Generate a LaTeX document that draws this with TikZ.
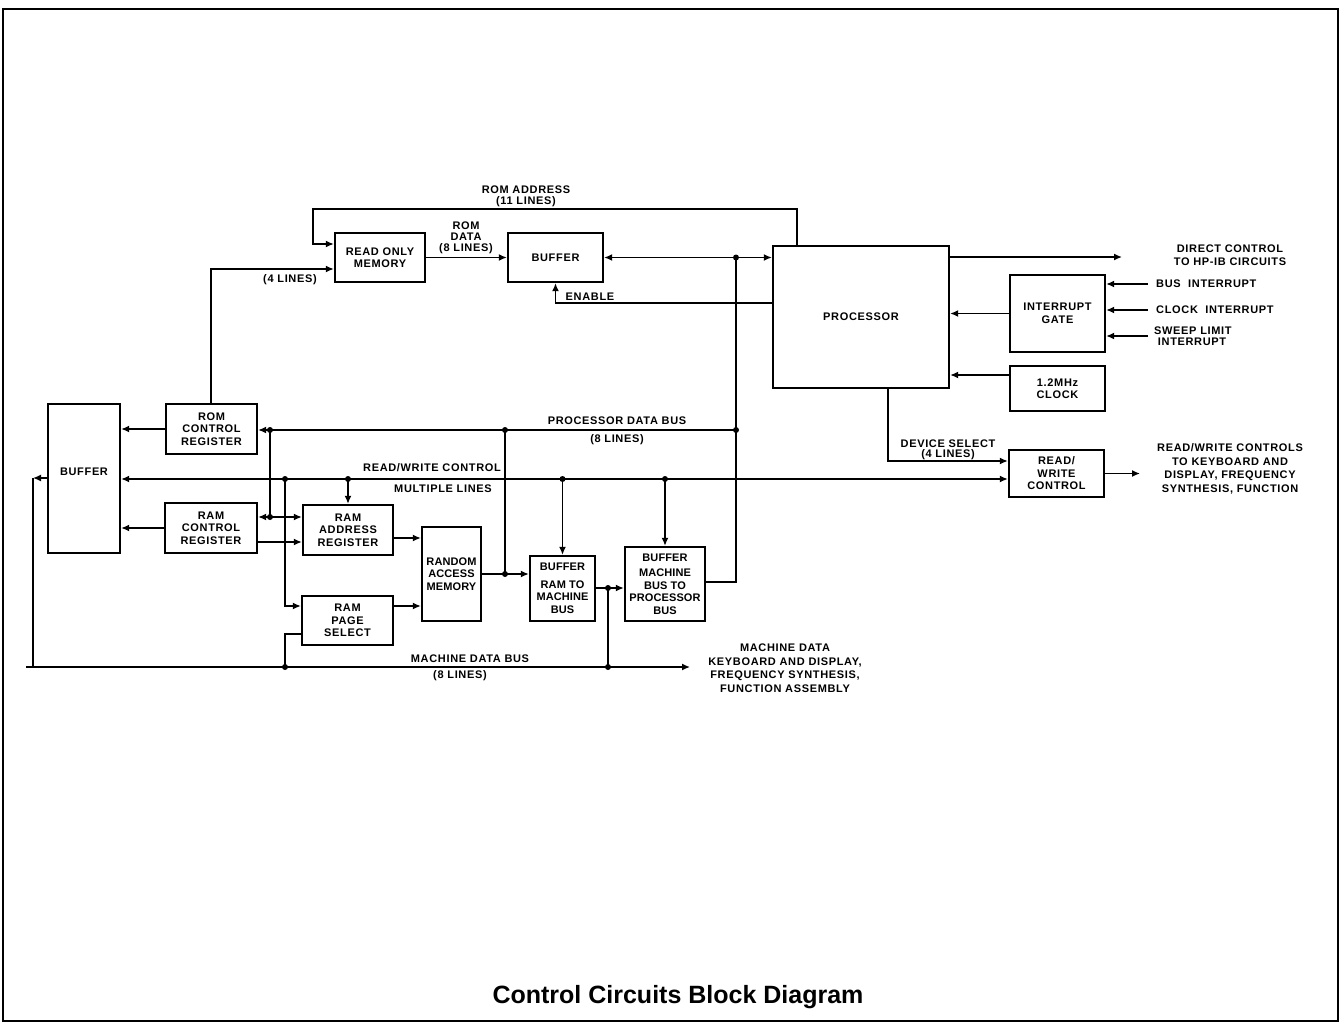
\documentclass[tikz,border=0pt]{standalone}
\usepackage{fontspec}
\setmainfont{Liberation Sans}
\newfontfamily\labfont[LetterSpace=6]{Liberation Sans}
\newfontfamily\labfontn[LetterSpace=1]{Liberation Sans}
\usetikzlibrary{arrows.meta}
\newcommand\lf{\labfont\fontsize{11}{12.5}\selectfont\bfseries}
\newcommand\lfs{\labfontn\fontsize{11}{12.5}\selectfont\bfseries}
\newcommand\lfw{\labfont\fontsize{11}{13.5}\selectfont\bfseries}
\newcommand\lfn{\labfont\fontsize{11}{11}\selectfont\bfseries}
\begin{document}
\begin{tikzpicture}[x=1pt,y=-1pt,
  box/.style={draw,line width=2.4pt,align=center,inner sep=0pt,font=\lf},
  wire/.style={line width=1.4pt},
  tip/.tip={Latex[length=8pt,width=7pt]},
  arr/.style={wire,-tip},
  dot/.style={circle,fill,inner sep=0pt,minimum size=6pt},
  lab/.style={font=\lf,align=center,inner sep=0pt}]
\useasboundingbox (0,0) rectangle (1343,1026);
\draw[line width=2pt] (3,9) rectangle (1338,1021);

% boxes
\node[box,minimum width=90pt,minimum height=49pt] (rom) at (380,257.5) {READ ONLY\\MEMORY};
\node[box,minimum width=95pt,minimum height=49pt] (buft) at (555.5,257.5) {BUFFER};
\node[box,minimum width=176pt,minimum height=142pt] (proc) at (861,317) {PROCESSOR};
\node[box,minimum width=95pt,minimum height=77pt] (igate) at (1057.5,313.5) {INTERRUPT\\GATE};
\node[box,minimum width=95pt,minimum height=45pt] (clk) at (1057.5,388.5) {1.2MHz\\CLOCK};
\node[box,minimum width=95pt,minimum height=47pt] (rwc) at (1056.5,473.5) {READ/\\WRITE\\CONTROL};
\node[box,minimum width=72pt,minimum height=149pt] (bufl) at (84,478.5) {BUFFER\\[2pt]};
\node[box,minimum width=91pt,minimum height=50pt] (romcr) at (211.5,429) {ROM\\CONTROL\\REGISTER};
\node[box,minimum width=92pt,minimum height=50pt] (ramcr) at (211,528) {RAM\\CONTROL\\REGISTER};
\node[box,minimum width=90pt,minimum height=50pt] (rama) at (348,530) {RAM\\ADDRESS\\REGISTER};
\node[box,minimum width=91pt,minimum height=49pt] (ramp) at (347.5,620.5) {RAM\\PAGE\\SELECT};
\node[box,font=\lfs,minimum width=59pt,minimum height=94pt] (ram) at (451.5,574) {RANDOM\\ACCESS\\MEMORY};
\node[box,font=\lfs,minimum width=65pt,minimum height=65pt] (bufrm) at (562.5,588.5) {BUFFER\\[5pt]RAM TO\\MACHINE\\BUS};
\node[box,font=\lfs,minimum width=80pt,minimum height=74pt] (bufmp) at (665,584) {BUFFER\\[3pt]MACHINE\\BUS TO\\PROCESSOR\\BUS};

% ROM address
\coordinate (ra1) at (797,209);
\coordinate (ra2) at (313,209);
\coordinate (ra3) at (313,244);
\draw[arr] (ra1 |- proc.north) -- (ra1) -- (ra2) -- (ra3) -- (ra3 -| rom.west);
\node[lab,font=\lfn] (lra) at (526,196) {ROM ADDRESS\\(11 LINES)};

% 4 lines
\coordinate (fl) at (211,269);
\draw[arr] (romcr.north -| fl) -- (fl) -- (fl -| rom.west);
\node[lab] (l4) at (290,280) {(4 LINES)};

% ROM data
\draw[arr] (rom.east) -- (buft.west);
\node[lab,font=\lfn] (lrd) at (466,238) {ROM\\DATA\\(8 LINES)};

% buffer <-> processor, vertical bus at 736
\coordinate (pj) at (736,257.5);
\draw[wire,tip-tip] (buft.east) -- (buft.east -| proc.west);
\coordinate (pd) at (736,430);
\coordinate (mpj) at (736,582);
\draw[wire] (pj) -- (mpj) -- (mpj -| bufmp.east);
\node[dot] at (pj) {};

% enable
\coordinate (en) at (555.5,303);
\draw[arr] (en -| proc.west) -- (en) -- (buft.south);
\node[lab] (len) at (590,297) {ENABLE};

% direct control
\coordinate (dc) at (1122,257);
\draw[arr] (proc.east |- dc) -- (dc);
\node[lab] (ldc) at (1230,255) {DIRECT CONTROL\\TO HP-IB CIRCUITS};

% gate and clock into processor
\draw[arr] (igate.west) -- (igate.west -| proc.east);
\coordinate (ck) at (1010,375);
\draw[arr] (clk.west |- ck) -- (proc.east |- ck);

% interrupt inputs
\coordinate (bi) at (1148,284);
\coordinate (ci) at (1148,310);
\coordinate (si) at (1148,336);
\draw[arr] (bi) -- (bi -| igate.east);
\draw[arr] (ci) -- (ci -| igate.east);
\draw[arr] (si) -- (si -| igate.east);
\node[lab,anchor=west] (lbi) at (1156,284) {BUS\ \ INTERRUPT};
\node[lab,anchor=west] (lci) at (1156,310) {CLOCK\ \ INTERRUPT};
\node[lab,anchor=west,align=left,font=\lfn] (lsi) at (1154,336) {SWEEP LIMIT\\\ INTERRUPT};

% device select
\coordinate (ds) at (888,461);
\draw[arr] (proc.south -| ds) -- (ds) -- (ds -| rwc.west);
\node[lab] (lds1) at (948,444) {DEVICE SELECT};
\node[lab] (lds2) at (948,455) {(4 LINES)};

% read/write control bus
\coordinate (rw) at (500,479);
\draw[wire,tip-tip] (bufl.east |- rw) -- (rwc.west |- rw);
\coordinate (rw1) at (285,479);
\coordinate (rw2) at (348,479);
\coordinate (rw3) at (562.5,479);
\coordinate (rw4) at (665,479);
\foreach \c in {rw1,rw2,rw3,rw4} \node[dot] at (\c) {};
\node[lab] (lrw) at (432,468) {READ/WRITE CONTROL};
\node[lab] (lml) at (443,489) {MULTIPLE LINES};
\draw[arr] (rw2) -- (rama.north);
\draw[arr] (rw3) -- (bufrm.north);
\draw[arr] (rw4) -- (bufmp.north);
\coordinate (ps) at (285,606);
\draw[arr] (rw1) -- (ps) -- (ps -| ramp.west);

% processor data bus
\draw[wire,tip-] (romcr.east |- pd) -- (pd);
\coordinate (pd1) at (270,430);
\coordinate (pd2) at (505,430);
\foreach \c in {pd1,pd2,pd} \node[dot] at (\c) {};
\node[lab] (lpd1) at (617,421) {PROCESSOR DATA BUS};
\node[lab] (lpd2) at (617,440) {(8 LINES)};

% RAM control register links
\coordinate (rc) at (270,517);
\coordinate (rc2) at (270,542);
\draw[wire] (pd1) -- (rc);
\draw[wire,tip-] (ramcr.east |- rc) -- (rc);
\draw[arr] (rc) -- (rc -| rama.west);
\node[dot] at (rc) {};
\draw[arr] (ramcr.east |- rc2) -- (rama.west |- rc2);

% control registers to left buffer
\draw[arr] (romcr.west) -- (romcr.west -| bufl.east);
\draw[arr] (ramcr.west) -- (ramcr.west -| bufl.east);

% RAM inputs
\coordinate (r1) at (400,538);
\coordinate (r2) at (400,606);
\draw[arr] (rama.east |- r1) -- (ram.west |- r1);
\draw[arr] (ramp.east |- r2) -- (ram.west |- r2);

% RAM output
\coordinate (ro) at (505,574);
\draw[wire] (pd2) -- (ro);
\draw[arr] (ram.east) -- (ram.east -| bufrm.west);
\node[dot] at (ro) {};

% buffer to buffer
\coordinate (bm) at (608,588);
\coordinate (bm2) at (608,667);
\draw[arr] (bufrm.east |- bm) -- (bufmp.west |- bm);
\draw[wire] (bm) -- (bm2);
\node[dot] at (bm) {};
\node[dot] at (bm2) {};

% RAM page to machine bus
\coordinate (pg) at (285,634);
\coordinate (pg2) at (285,667);
\draw[wire] (ramp.west |- pg) -- (pg) -- (pg2);
\node[dot] at (pg2) {};

% machine data bus
\coordinate (mdL) at (26,667);
\coordinate (mdR) at (690,667);
\draw[arr] (mdL) -- (mdR);
\coordinate (mdc) at (33,478);
\coordinate (mdb) at (33,667);
\draw[arr] (bufl.west |- mdc) -- (mdc);
\draw[wire] (mdc) -- (mdb);
\node[lab] (lmd1) at (470,659) {MACHINE DATA BUS};
\node[lab] (lmd2) at (460,676) {(8 LINES)};
\node[lab,font=\lfw] (lmd3) at (785,668) {MACHINE DATA\\KEYBOARD AND DISPLAY,\\FREQUENCY SYNTHESIS,\\FUNCTION ASSEMBLY};

% R/W control outputs
\coordinate (rwo) at (1140,473.5);
\draw[arr] (rwc.east) -- (rwo);
\node[lab,font=\lfw] (lrwo) at (1230,469) {READ/WRITE CONTROLS\\TO KEYBOARD AND\\DISPLAY, FREQUENCY\\SYNTHESIS, FUNCTION};

% title
\node[font=\fontsize{25}{28}\selectfont\bfseries,inner sep=0pt] (title) at (678,997) {Control Circuits Block Diagram};
\end{tikzpicture}
\end{document}
